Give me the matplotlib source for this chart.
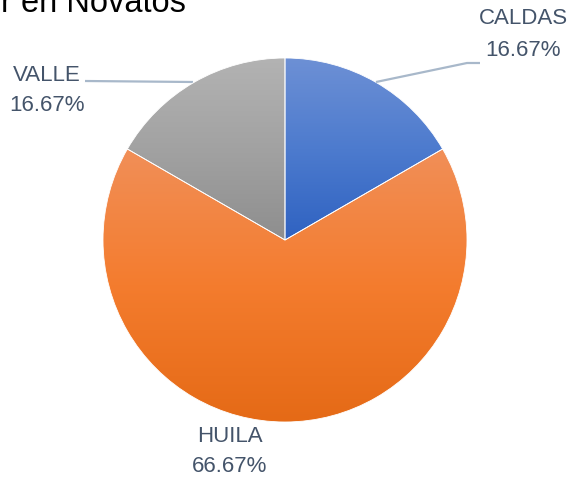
import numpy as np
import matplotlib
matplotlib.use("Agg")
import matplotlib.pyplot as plt
from matplotlib.colors import LinearSegmentedColormap

categories = ["CALDAS", "HUILA", "VALLE"]
values = [1, 4, 1]
title_text = "r en Novatos"

W, H = 571, 478
fig = plt.figure(figsize=(W / 100, H / 100), dpi=100)
ax = fig.add_axes([0, 0, 1, 1])
ax.set_xlim(0, W)
ax.set_ylim(0, H)
ax.set_aspect("equal")
ax.axis("off")

def py(y):
    return H - y

cx, cy, R = 285, 240, 182
grad_stops = [
    ["#6d90d5", "#4d7bce", "#2f62c1"],
    ["#f18f58", "#f47c2e", "#e56a16"],
    ["#b3b3b3", "#a2a2a2", "#8e8e8e"],
]

wedges, _ = ax.pie(values, center=(cx, py(cy)), radius=R, startangle=90,
                   counterclock=False, frame=True,
                   wedgeprops=dict(linewidth=0.6, edgecolor="white"))
ax.set_xlim(0, W)
ax.set_ylim(0, H)
ax.axis("off")

for w, stops in zip(wedges, grad_stops):
    w.set_facecolor("none")
    path = w.get_path()
    verts = w.get_patch_transform().transform(path.vertices)
    y0, y1 = verts[:, 1].min(), verts[:, 1].max()
    x0, x1 = verts[:, 0].min(), verts[:, 0].max()
    cmap = LinearSegmentedColormap.from_list("g", stops[::-1])
    grad = np.linspace(0, 1, 256).reshape(-1, 1)
    im = ax.imshow(grad, cmap=cmap, extent=(x0, x1, y0, y1), origin="lower",
                   aspect="auto", zorder=1, interpolation="bilinear")
    im.set_clip_path(w)
    w.set_zorder(2)

total = sum(values)
pcts = ["{:.2f}%".format(100 * v / total) for v in values]

txt_color = "#44546a"
fs = 16
font = "Liberation Sans"
label_pos = {
    "CALDAS": (523, 18, 50),
    "HUILA": (230, 436, 466),
    "VALLE": (47, 75, 105),
}
for cat, p in zip(categories, pcts):
    x, y1, y2 = label_pos[cat]
    ax.text(x, py(y1), cat, ha="center", va="center", fontsize=fs,
            color=txt_color, family=font)
    ax.text(x, py(y2), p, ha="center", va="center", fontsize=fs,
            color=txt_color, family=font)

lc = "#a8b8ca"
ax.plot([376, 467, 480], [py(82), py(63), py(63)], color=lc, lw=1.6,
        solid_capstyle="butt", zorder=3)
ax.plot([85, 193], [py(81), py(82)], color=lc, lw=1.6,
        solid_capstyle="butt", zorder=0)

ax.text(186, py(12), title_text, ha="right", va="baseline", fontsize=23.5,
        color="black", family="Liberation Sans")

fig.savefig("out.png", dpi=100)
